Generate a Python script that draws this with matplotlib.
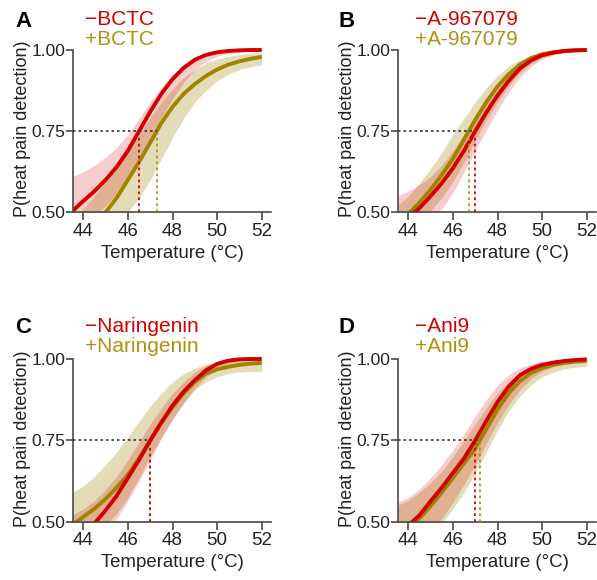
import numpy as np
import matplotlib
matplotlib.use("Agg")
import matplotlib.pyplot as plt

plt.rcParams["font.family"] = ["Liberation Sans", "DejaVu Sans"]

RED = "#d40000"
OLIVE = "#a08400"
OLIVE_TXT = "#b09212"

temps = [43.5, 44.0, 44.5, 45.0, 45.5, 46.0, 46.5, 47.0, 47.5,
         48.0, 48.5, 49.0, 49.5, 50.0, 50.5, 51.0, 51.5, 52.0]

drugs = ["BCTC", "A-967079", "Naringenin", "Ani9"]
letters = ["A", "B", "C", "D"]

# panel A: BCTC
a_ctrl = [0.503, 0.535, 0.565, 0.600, 0.640, 0.690, 0.750, 0.810, 0.865,
          0.910, 0.945, 0.970, 0.985, 0.993, 0.997, 0.999, 1.000, 1.000]
a_ctrl_lo = [0.43, 0.46, 0.49, 0.52, 0.56, 0.61, 0.67, 0.73, 0.79,
             0.85, 0.90, 0.94, 0.965, 0.98, 0.99, 0.994, 0.996, 0.997]
a_ctrl_hi = [0.61, 0.625, 0.645, 0.67, 0.70, 0.74, 0.79, 0.84, 0.885,
             0.925, 0.955, 0.975, 0.99, 0.997, 1.0, 1.003, 1.004, 1.005]
a_drug = [0.43, 0.46, 0.48, 0.50, 0.545, 0.60, 0.655, 0.715, 0.775,
          0.825, 0.865, 0.895, 0.92, 0.94, 0.955, 0.965, 0.973, 0.979]
a_drug_lo = [0.36, 0.39, 0.42, 0.45, 0.475, 0.50, 0.545, 0.60, 0.665,
             0.73, 0.79, 0.84, 0.875, 0.905, 0.925, 0.94, 0.948, 0.955]
a_drug_hi = [0.47, 0.51, 0.55, 0.595, 0.64, 0.69, 0.74, 0.79, 0.84,
             0.88, 0.915, 0.94, 0.96, 0.972, 0.98, 0.986, 0.99, 0.993]

# panel B: A-967079
b_ctrl = [0.46, 0.485, 0.513, 0.55, 0.59, 0.636, 0.69, 0.75, 0.808,
          0.86, 0.905, 0.943, 0.968, 0.984, 0.992, 0.997, 0.999, 1.0]
b_ctrl_lo = [0.40, 0.42, 0.45, 0.48, 0.51, 0.56, 0.625, 0.69, 0.755,
             0.815, 0.87, 0.915, 0.95, 0.972, 0.985, 0.992, 0.996, 0.997]
b_ctrl_hi = [0.55, 0.565, 0.585, 0.61, 0.645, 0.69, 0.74, 0.795, 0.85,
             0.895, 0.935, 0.96, 0.978, 0.99, 0.995, 0.998, 1.0, 1.003]
b_drug = [0.47, 0.495, 0.53, 0.57, 0.615, 0.665, 0.725, 0.785, 0.84,
          0.888, 0.925, 0.955, 0.975, 0.987, 0.993, 0.997, 0.999, 1.0]
b_drug_lo = [0.42, 0.44, 0.47, 0.505, 0.545, 0.595, 0.655, 0.72, 0.785,
             0.84, 0.89, 0.93, 0.958, 0.976, 0.987, 0.993, 0.996, 0.997]
b_drug_hi = [0.52, 0.55, 0.59, 0.635, 0.685, 0.74, 0.79, 0.84, 0.885,
             0.92, 0.95, 0.97, 0.983, 0.991, 0.996, 0.998, 1.0, 1.002]

# panel C: Naringenin
c_ctrl = [0.44, 0.465, 0.495, 0.535, 0.58, 0.635, 0.69, 0.75, 0.805,
          0.857, 0.90, 0.935, 0.965, 0.985, 0.995, 0.999, 1.0, 1.0]
c_ctrl_lo = [0.36, 0.39, 0.425, 0.465, 0.51, 0.565, 0.625, 0.69, 0.755,
             0.815, 0.865, 0.91, 0.945, 0.97, 0.985, 0.993, 0.997, 0.998]
c_ctrl_hi = [0.52, 0.54, 0.565, 0.60, 0.64, 0.69, 0.745, 0.80, 0.85,
             0.895, 0.93, 0.96, 0.98, 0.992, 0.998, 1.0, 1.002, 1.003]
c_drug = [0.49, 0.515, 0.54, 0.57, 0.605, 0.645, 0.695, 0.75, 0.805,
          0.852, 0.895, 0.93, 0.955, 0.968, 0.976, 0.982, 0.986, 0.988]
c_drug_lo = [0.42, 0.44, 0.465, 0.49, 0.525, 0.575, 0.635, 0.70, 0.76,
             0.815, 0.865, 0.905, 0.93, 0.945, 0.955, 0.96, 0.962, 0.962]
c_drug_hi = [0.59, 0.61, 0.64, 0.675, 0.715, 0.76, 0.81, 0.855, 0.895,
             0.93, 0.955, 0.972, 0.983, 0.99, 0.994, 0.996, 0.998, 0.999]

# panel D: Ani9
d_ctrl = [0.465, 0.488, 0.52, 0.563, 0.605, 0.65, 0.695, 0.75, 0.81,
          0.868, 0.915, 0.95, 0.97, 0.982, 0.989, 0.994, 0.997, 0.999]
d_ctrl_lo = [0.37, 0.40, 0.43, 0.47, 0.51, 0.56, 0.615, 0.675, 0.74,
             0.805, 0.86, 0.905, 0.94, 0.962, 0.976, 0.985, 0.99, 0.993]
d_ctrl_hi = [0.56, 0.575, 0.60, 0.635, 0.675, 0.72, 0.77, 0.825, 0.875,
             0.92, 0.952, 0.972, 0.985, 0.992, 0.996, 0.998, 1.0, 1.003]
d_drug = [0.455, 0.48, 0.51, 0.548, 0.59, 0.635, 0.68, 0.725, 0.785,
          0.845, 0.895, 0.932, 0.957, 0.972, 0.982, 0.988, 0.992, 0.994]
d_drug_lo = [0.37, 0.395, 0.425, 0.46, 0.495, 0.54, 0.59, 0.65, 0.715,
             0.78, 0.84, 0.885, 0.92, 0.945, 0.96, 0.97, 0.975, 0.978]
d_drug_hi = [0.55, 0.565, 0.59, 0.62, 0.655, 0.70, 0.75, 0.80, 0.85,
             0.895, 0.93, 0.955, 0.972, 0.983, 0.99, 0.994, 0.997, 0.999]

# temperature at P = 0.75 (control, drug)
t75_ctrl = [46.5, 47.0, 47.0, 47.0]
t75_drug = [47.3, 46.72, 47.0, 47.22]

ctrl_curves = [(a_ctrl, a_ctrl_lo, a_ctrl_hi), (b_ctrl, b_ctrl_lo, b_ctrl_hi),
               (c_ctrl, c_ctrl_lo, c_ctrl_hi), (d_ctrl, d_ctrl_lo, d_ctrl_hi)]
drug_curves = [(a_drug, a_drug_lo, a_drug_hi), (b_drug, b_drug_lo, b_drug_hi),
               (c_drug, c_drug_lo, c_drug_hi), (d_drug, d_drug_lo, d_drug_hi)]

#------------------------------------------------------------------------------

W, H = 597, 580
fig = plt.figure(figsize=(W / 100, H / 100), dpi=100)

# axes boxes in pixels: left, y of P=0.5, y of P=1.0
boxes = [(73.3, 212.3, 50.0), (398.3, 212.3, 50.0),
         (73.3, 521.7, 359.0), (398.3, 521.7, 359.0)]
XMIN, XMAX = 43.55, 52.4
YTOP = 1.012
ax_w = (XMAX - XMIN) * 22.3

SPINE = "#4a4a4a"
DOTS = (0, (1.5, 1.8))

for i in range(4):
    x0, yb, yt = boxes[i]
    ppu = (yb - yt) / 0.5
    top_px = yt - (YTOP - 1.0) * ppu
    ax = fig.add_axes([x0 / W, 1 - yb / H, ax_w / W, (yb - top_px) / H])

    t = np.array(temps)
    c_m, c_lo, c_hi = ctrl_curves[i]
    d_m, d_lo, d_hi = drug_curves[i]

    ax.fill_between(t, d_lo, d_hi, color=OLIVE, alpha=0.28, lw=0)
    ax.fill_between(t, c_lo, c_hi, color=RED, alpha=0.2, lw=0)
    ax.plot(t, d_m, color=OLIVE, lw=2.8, solid_capstyle="butt")
    ax.plot(t, c_m, color=RED, lw=2.8, solid_capstyle="butt")

    tmax = max(t75_ctrl[i], t75_drug[i])
    ax.plot([XMIN, tmax], [0.75, 0.75], color="#333333", lw=1.2,
            linestyle=DOTS, zorder=5)
    ax.plot([t75_drug[i], t75_drug[i]], [0.5, 0.75], color=OLIVE_TXT, lw=1.3,
            linestyle=DOTS, zorder=5)
    ax.plot([t75_ctrl[i], t75_ctrl[i]], [0.5, 0.75], color=RED, lw=1.3,
            linestyle=DOTS, zorder=5)

    ax.set_xlim(XMIN, XMAX)
    ax.set_ylim(0.5, YTOP)
    ax.set_xticks([44, 46, 48, 50, 52])
    ax.set_yticks([0.5, 0.75, 1.0])
    ax.set_yticklabels(["0.50", "0.75", "1.00"])
    for s in ["top", "right"]:
        ax.spines[s].set_visible(False)
    for s in ["left", "bottom"]:
        ax.spines[s].set_color(SPINE)
        ax.spines[s].set_linewidth(1.2)
    ax.spines["left"].set_bounds(0.5, 1.0)
    ax.tick_params(axis="y", length=5, width=1.2, color=SPINE, pad=0.5,
                   labelsize=12.5, labelcolor="#222222")
    ax.tick_params(axis="x", length=5.5, width=1.2, color=SPINE, pad=2,
                   labelsize=13.5, labelcolor="#222222")
    ax.set_xlabel("Temperature (°C)", fontsize=13.4, color="#222222",
                  labelpad=3.5)
    ax.set_ylabel("P(heat pain detection)", fontsize=13, color="#222222",
                  labelpad=0.5)
    ax.patch.set_alpha(0)

    # panel letter and legend text
    lx = 15 if i % 2 == 0 else 338
    ly = 27 if i < 2 else 333
    fig.text(lx / W, 1 - ly / H, letters[i], fontsize=16, fontweight="bold",
             va="baseline", ha="left")
    tx = 85 if i % 2 == 0 else 415
    ty = 25 if i < 2 else 332
    fig.text(tx / W, 1 - ty / H, "\u2212" + drugs[i], color=RED, fontsize=15,
             va="baseline", ha="left")
    fig.text(tx / W, 1 - (ty + 20) / H, "+" + drugs[i], color=OLIVE_TXT,
             fontsize=15, va="baseline", ha="left")

fig.savefig("out.png", dpi=100)
